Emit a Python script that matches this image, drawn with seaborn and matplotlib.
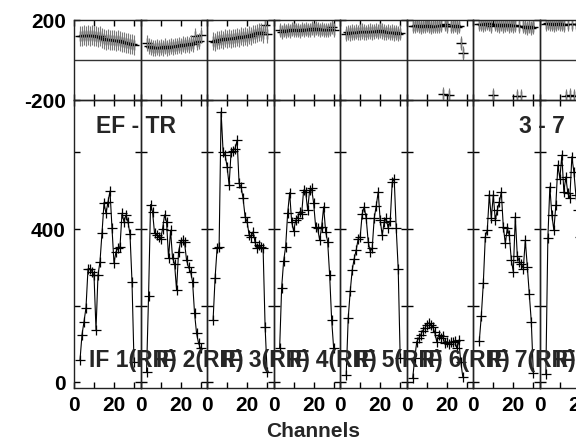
import numpy as np
import matplotlib
matplotlib.use("Agg")
import matplotlib.pyplot as plt
import seaborn as sns

# channels plotted in every IF panel
channels = list(range(3, 31))
if_labels = ["IF 1(RR)", "IF 2(RR)", "IF 3(RR)", "IF 4(RR)",
             "IF 5(RR)", "IF 6(RR)", "IF 7(RR)", "IF 8(RR)"]
nan = np.nan

# amplitude per channel
amp_if1 = [58, 124, 158, 195, 296, 297, 289, 280, 137, 280, 315, 390, 467, 441,
           471, 499, 402, 311, 341, 350, 354, 441, 419, 437, 419, 386, 263, 54]
amp_if2 = [28, 224, 464, 445, 389, 385, 380, 375, 400, 437, 419, 324, 397, 324,
           310, 241, 340, 367, 371, 365, 319, 300, 289, 263, 180, 128, 102, 89]
amp_if3 = [163, 273, 350, 352, 706, 602, 593, 563, 515, 602, 605, 610, 632, 519,
           510, 480, 432, 419, 385, 380, 393, 365, 350, 358, 354, 350, 145, 28]
amp_if4 = [89, 247, 317, 354, 441, 495, 419, 395, 423, 430, 445, 440, 502, 497,
           450, 502, 506, 467, 406, 402, 371, 406, 458, 393, 367, 280, 163, 89]
amp_if5 = [19, 167, 237, 293, 323, 345, 375, 380, 440, 458, 428, 367, 341, 350,
           428, 460, 497, 423, 384, 419, 428, 402, 420, 522, 532, 402, 297, 63]
amp_if6 = [12, 63, 106, 115, 124, 135, 141, 150, 155, 150, 145, 130, 106, 124,
           115, 120, 102, 106, 100, 104, 106, 108, 89, 110, 54, 15, nan, nan]
amp_if7 = [108, 173, 258, 380, 397, 490, 428, 489, 423, 450, 470, 497, 406, 363,
           402, 384, 319, 289, 432, 330, 315, 310, 297, 371, 302, 230, 158, 24]
amp_if8 = [21, 376, 510, 437, 397, 463, 567, 532, 593, 497, 536, 493, 480, 589,
           550, 489, 450, 380, 420, 460, 430, 400, 390, 410, 350, 250, 150, 40]

# phase per channel (degrees)
ph_if1 = [118, 122, 125, 120, 124, 118, 126, 120, 122, 115, 118, 110, 106, 100,
          104, 98, 102, 100, 97, 100, 96, 92, 88, 86, 85, 82, 80, 76]
ph_if2 = [85, 70, 65, 62, 60, 64, 58, 66, 62, 68, 60, 65, 70, 66,
          72, 68, 75, 70, 78, 74, 80, 76, 85, 82, 118, 88, 95, 125]
ph_if3 = [95, 90, 98, 100, 105, 102, 108, 104, 110, 106, 112, 108, 115, 110,
          118, 114, 120, 116, 125, 122, 130, 128, 135, 140, 138, 132, 175, 128]
ph_if4 = [148, 140, 152, 146, 150, 144, 155, 150, 148, 152, 146, 154, 150, 156,
          148, 152, 158, 150, 160, 154, 150, 156, 152, 148, 150, 154, 165, 150]
ph_if5 = [132, 138, 135, 140, 136, 142, 138, 140, 145, 140, 138, 142, 145, 140,
          144, 146, 142, 148, 145, 140, 138, 142, 136, 140, 135, 138, 132, 136]
ph_if6 = [172, 168, 175, 170, 165, 172, 168, 175, 170, 165, 168, 172, 170, 168,
          175, -172, 178, 170, -177, 172, 168, 175, 165, 170, 85, 35, nan, nan]
ph_if7 = [178, 182, 175, 180, 185, 178, 172, -175, 180, 175, 172, 178, 170, 175,
          180, 172, 176, 170, 174, -178, 170, -182, 168, 165, 160, 168, 162, 165]
ph_if8 = [180, 185, 178, 182, 176, 180, 184, 178, 180, 176, -178, 182, -176, 180,
          -180, 178, 182, 176, 180, 178, 175, 180, 176, 178, 172, 175, 170, 168]
phase_err = [50, 40, 45, 35, 38, 35, 35, 35]

amplitudes = [amp_if1, amp_if2, amp_if3, amp_if4, amp_if5, amp_if6, amp_if7, amp_if8]
phases = [ph_if1, ph_if2, ph_if3, ph_if4, ph_if5, ph_if6, ph_if7, ph_if8]

sns.set_style("ticks")
plt.rcParams["font.family"] = ["Liberation Sans", "DejaVu Sans"]
plt.rcParams["font.weight"] = "bold"

W, H = 576, 440
fig = plt.figure(figsize=(W / 100, H / 100), dpi=100)

# panel geometry in pixels
x0, pw = 74, 66.55
ph_top, ph_bot, am_bot = 20, 100, 388
xmax = pw / 2

for i in range(8):
    left = (x0 + i * pw) / W
    axp = fig.add_axes([left, (H - ph_bot) / H, pw / W, (ph_bot - ph_top) / H])
    axa = fig.add_axes([left, (H - am_bot) / H, pw / W, (am_bot - ph_bot) / H])

    # phase panel
    axp.errorbar(channels, phases[i], yerr=phase_err[i], fmt="none",
                 ecolor="#7a7a7a", elinewidth=0.8)
    sns.scatterplot(x=channels, y=phases[i], ax=axp, marker="+", color="black",
                    s=50, linewidth=1.0, legend=False)
    axp.axhline(0, color="#333333", lw=1.0)
    axp.set_xlim(0, xmax)
    axp.set_ylim(-200, 200)
    axp.set_xticks([0, 10, 20, 30])
    axp.set_xticklabels([])
    axp.set_yticks([-200, 200])
    axp.set_yticklabels(["-200", "200"] if i == 0 else [])

    # amplitude panel
    sns.lineplot(x=channels, y=amplitudes[i], ax=axa, color="black", lw=0.8,
                 marker="+", markersize=7, markeredgewidth=0.9,
                 markeredgecolor="black")
    axa.set_xlim(0, xmax)
    axa.set_ylim(-15, 737)
    axa.set_xticks([0, 10, 20, 30])
    axa.set_xticklabels(["0", "", "20", ""])
    axa.set_yticks([0, 200, 400, 600])
    axa.set_yticklabels(["0", "", "400", ""] if i == 0 else [])

    # labels live on the figure so neighbouring panels do not hide them
    fig.text(7.5, 40, if_labels[i], transform=axa.transData, fontsize=16.5,
             fontweight="bold", va="baseline", zorder=5)

    for ax in (axp, axa):
        ax.set_facecolor("none")
        ax.set_xlabel("")
        ax.set_ylabel("")
        ax.tick_params(direction="in", length=4, width=1, top=True, right=True,
                       colors="black", labelsize=15, pad=6)
        for s in ax.spines.values():
            s.set_color("#222222")
            s.set_linewidth(1.0)

    if i == 0:
        fig.text(11, 650, "EF - TR", transform=axa.transData, fontsize=16.5,
                 fontweight="bold", va="baseline", zorder=5)
    if i == 6:
        fig.text(22.8, 650, "3 - 7", transform=axa.transData, fontsize=16.5,
                 fontweight="bold", va="baseline", zorder=5)

fig.text(313.5 / W, (H - 431) / H, "Channels", ha="center", va="center",
         fontsize=15, fontweight="bold")

fig.savefig("out.png", dpi=100, facecolor="white")
